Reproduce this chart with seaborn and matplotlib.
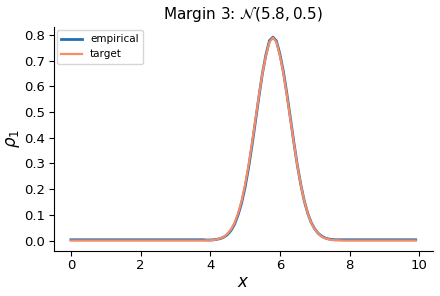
import matplotlib as mpl
mpl.use('Agg')
import matplotlib.pyplot as plt
import pandas as pd
import seaborn as sns
import numpy as np

#grid of x positions (step 0.1, 0 .. 9.9)
x_grid = np.round(np.arange(0, 10, 0.1), 1)

#density, x = 3.9 .. 7.7 (zero elsewhere)
target_mid = [0.001, 0.001, 0.002, 0.005, 0.009, 0.015, 0.027, 0.044, 0.069, 0.106,
	0.154, 0.217, 0.293, 0.380, 0.473, 0.566, 0.652, 0.720, 0.773, 0.790,
	0.773, 0.720, 0.652, 0.566, 0.473, 0.380, 0.293, 0.217, 0.154, 0.106,
	0.069, 0.044, 0.027, 0.015, 0.009, 0.005, 0.002, 0.001, 0.001]
empirical_mid = [0.002, 0.002, 0.003, 0.005, 0.008, 0.014, 0.024, 0.040, 0.064, 0.100,
	0.146, 0.207, 0.283, 0.371, 0.466, 0.562, 0.652, 0.724, 0.778, 0.792,
	0.777, 0.726, 0.658, 0.572, 0.478, 0.383, 0.294, 0.218, 0.154, 0.106,
	0.070, 0.045, 0.028, 0.017, 0.010, 0.006, 0.004, 0.003, 0.003]

target = [0.0] * 39 + target_mid + [0.0] * 22
empirical = [0.003] * 39 + empirical_mid + [0.003] * 22

df = pd.DataFrame({'x': x_grid, 'empirical': empirical, 'target': target})

fig, ax = plt.subplots(figsize=(4.4, 2.96), dpi=100)
sns.lineplot(data=df, x='x', y='empirical', color='#1f6fb2', linewidth=2, label='empirical', ax=ax)
sns.lineplot(data=df, x='x', y='target', color='#f98c64', linewidth=1.6, label='target', ax=ax)
sns.despine(ax=ax)

ax.set_title(r'Margin 3: $\mathcal{N}(5.8, 0.5)$', fontsize=11)
ax.set_xlabel(r'$x$', fontsize=12, labelpad=1)
ax.set_ylabel(r'$\rho_1$', fontsize=12, labelpad=2)
ax.set_xticks([0, 2, 4, 6, 8, 10])
ax.set_yticks(np.arange(0, 0.81, 0.1))
ax.tick_params(labelsize=9.5, pad=2.5)
ax.legend(loc='upper left', fontsize=7.5, frameon=True, borderaxespad=0.3)

fig.subplots_adjust(left=0.122, right=0.984, bottom=0.153, top=0.909)
plt.savefig('out.png', dpi=100)
